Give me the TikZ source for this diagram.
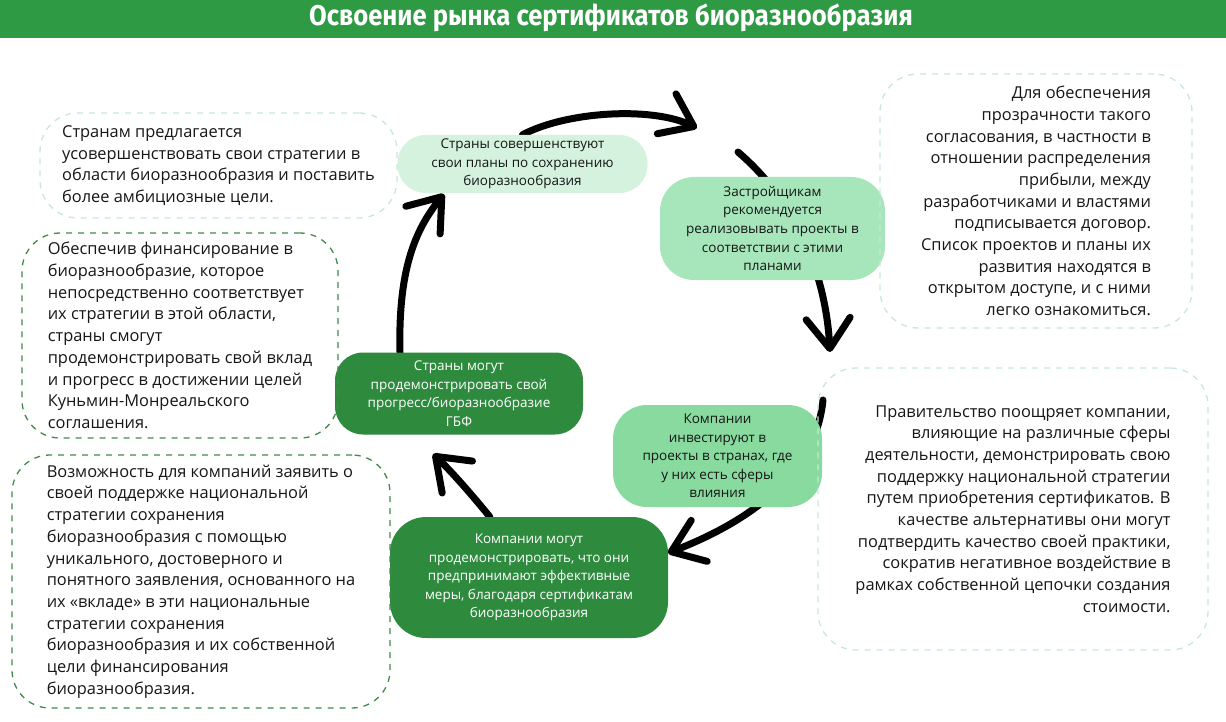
\documentclass[tikz,border=0pt]{standalone}
\usepackage{fontspec}
\setmainfont{Open Sans}
\newfontfamily\titlefont{Fira Sans}
\usetikzlibrary{arrows.meta,backgrounds}

\definecolor{titlegreen}{HTML}{2F9A44}
\definecolor{palefill}{HTML}{D5F2DF}
\definecolor{midfill}{HTML}{A6E6BA}
\definecolor{brightfill}{HTML}{88DA9E}
\definecolor{darkfill}{HTML}{2E8B3E}
\definecolor{paleline}{HTML}{C6E8D8}
\definecolor{darkline}{HTML}{3F8B4B}
\definecolor{inktext}{HTML}{161616}

\tikzset{
  note/.style={rounded corners=38pt, dash pattern=on 6pt off 6pt, line width=1.3pt,
    inner sep=0pt, text=inktext, font=\fontsize{16.4}{21.7}\selectfont},
  palenote/.style={note, draw=paleline},
  darknote/.style={note, draw=darkline},
  stage/.style={rounded corners=28pt, inner sep=0pt, align=center, text=inktext,
    font=\fontsize{13.5}{18.6}\selectfont},
  cyclearrow/.style={line width=7pt, line cap=round,
    -{Straight Barb[length=30pt,width=44pt,round]}},
}

\begin{document}
\begin{tikzpicture}[x=1pt,y=-1pt]
  \useasboundingbox (0,0) rectangle (1226,722);

  % Title bar
  \fill[titlegreen] (0,0) rectangle (1226,38);
  \node[text=white] (title) at (611,18)
    {\scalebox{0.9}[1]{\titlefont\bfseries\fontsize{28.5}{32}\selectfont Освоение рынка сертификатов биоразнообразия}};

  % Cycle stages
  \node[stage, fill=palefill, minimum width=250pt, minimum height=58pt] (plans) at (522.5,164)
    {Страны совершенствуют\\свои планы по сохранению\\биоразнообразия};
  \node[stage, fill=midfill, minimum width=225pt, minimum height=103pt, rounded corners=34pt] (builders) at (772.5,228.5)
    {Застройщикам\\рекомендуется\\реализовывать проекты в\\соответствии с этими\\планами};
  \node[stage, fill=brightfill, minimum width=209pt, minimum height=102pt, rounded corners=34pt] (invest) at (717.5,456)
    {Компании\\инвестируют в\\проекты в странах, где\\у них есть сферы\\влияния};
  \node[stage, fill=darkfill, text=white, minimum width=278pt, minimum height=121pt, rounded corners=36pt] (firms) at (529,577.5)
    {Компании могут\\продемонстрировать, что они\\предпринимают эффективные\\меры, благодаря сертификатам\\биоразнообразия};
  \node[stage, fill=darkfill, text=white, minimum width=248pt, minimum height=82pt] (progress) at (459,393.5)
    {Страны могут\\продемонстрировать свой\\прогресс/биоразнообразие\\ГБФ};

  % Side notes
  \node[palenote, align=left, minimum width=357pt, minimum height=105pt] (ambition) at (218.5,165.5)
    {Странам предлагается\\усовершенствовать свои стратегии в\\области биоразнообразия и поставить\\более амбициозные цели.};
  \node[palenote, align=right, minimum width=312pt, minimum height=254pt] (contract) at (1036,201)
    {Для обеспечения\\прозрачности такого\\согласования, в частности в\\отношении распределения\\прибыли, между\\разработчиками и властями\\подписывается договор.\\Список проектов и планы их\\развития находятся в\\открытом доступе, и с ними\\легко ознакомиться.};
  \node[darknote, align=left, minimum width=316pt, minimum height=205pt] (funding) at (180,335.5)
    {Обеспечив финансирование в\\биоразнообразие, которое\\непосредственно соответствует\\их стратегии в этой области,\\страны смогут\\продемонстрировать свой вклад\\и прогресс в достижении целей\\Куньмин-Монреальского\\соглашения.};
  \node[palenote, align=right, minimum width=390pt, minimum height=282pt] (government) at (1013,509)
    {Правительство поощряет компании,\\влияющие на различные сферы\\деятельности, демонстрировать свою\\поддержку национальной стратегии\\путем приобретения сертификатов. В\\качестве альтернативы они могут\\подтвердить качество своей практики,\\сократив негативное воздействие в\\рамках собственной цепочки создания\\стоимости.};
  \node[darknote, align=left, minimum width=378pt, minimum height=253pt] (claim) at (201,581.5)
    {Возможность для компаний заявить о\\своей поддержке национальной\\стратегии сохранения\\биоразнообразия с помощью\\уникального, достоверного и\\понятного заявления, основанного на\\их «вкладе» в эти национальные\\стратегии сохранения\\биоразнообразия и их собственной\\цели финансирования\\биоразнообразия.};

  % Arrow ends
  \coordinate (toright) at (697,128);
  \coordinate (fromtop) at (738,152);
  \coordinate (todown) at (830,352);
  \coordinate (fromright) at (823,400);
  \coordinate (toleft) at (668,553);
  \coordinate (toup) at (433,454);
  \coordinate (totop) at (444,194);

  % Cycle arrows
  \begin{pgfonlayer}{background}
    \draw[cyclearrow] (plans.north) .. controls (565,112) and (650,106) .. (toright);
    \draw[cyclearrow] (fromtop) .. controls (800,205) and (826,280) .. (todown);
    \draw[cyclearrow] (fromright) .. controls (815,480) and (740,525) .. (toleft);
    \draw[cyclearrow] ([xshift=100pt]firms.north west) .. controls (472,495) and (452,472) .. (toup);
    \draw[cyclearrow] ([xshift=-59pt]progress.north) .. controls (398,270) and (415,230) .. (totop);
  \end{pgfonlayer}
\end{tikzpicture}
\end{document}
